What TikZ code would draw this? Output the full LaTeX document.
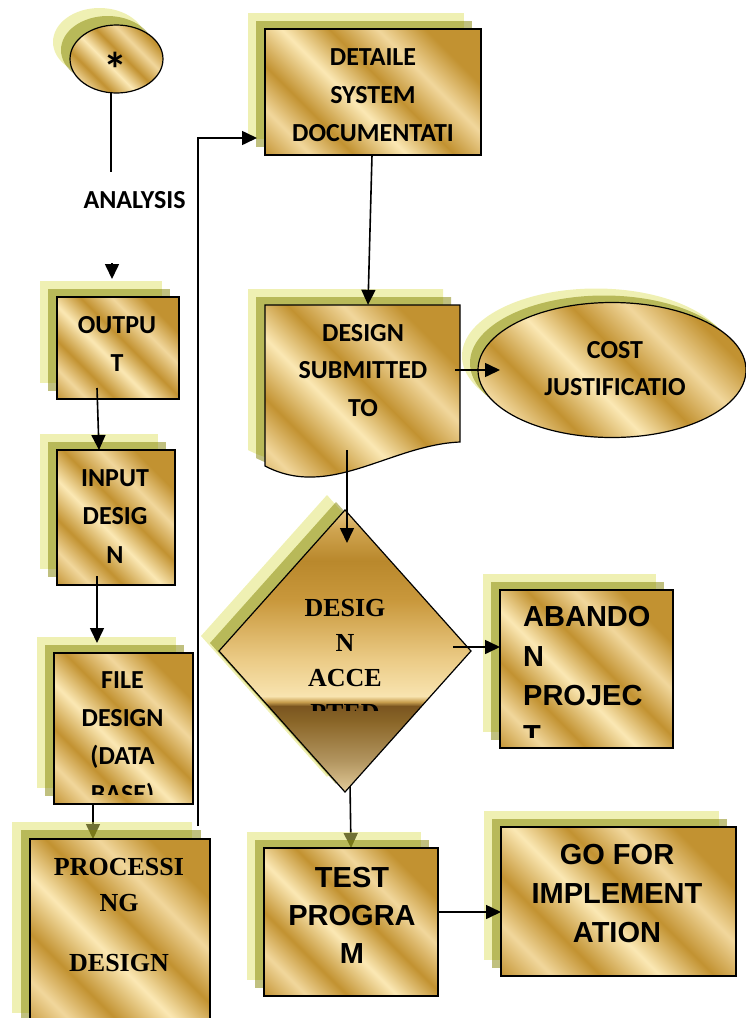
\documentclass[tikz,border=0pt]{standalone}
\usepackage{fontspec}
\newfontfamily\calfont{Carlito}
\newfontfamily\arifont{Liberation Sans}
\newfontfamily\timfont{Liberation Serif}
\usetikzlibrary{shapes.geometric,shadows,arrows.meta,calc}
\pgfdeclarelayer{bg}
\pgfsetlayers{bg,main}
\definecolor{gA}{HTML}{A88A5C}
\definecolor{gB}{HTML}{7D5C26}
\definecolor{gL}{HTML}{FBE8B4}
\definecolor{gM}{HTML}{C29231}
\definecolor{gLL}{HTML}{F1D79C}
\definecolor{shL}{HTML}{E0E268}
\definecolor{shO}{HTML}{828200}
\definecolor{dA}{HTML}{E3CC9A}
\definecolor{dB}{HTML}{B29560}
\definecolor{dC}{HTML}{8A6628}
\definecolor{dD}{HTML}{7A5520}
\definecolor{dE}{HTML}{C9A050}
\definecolor{dF}{HTML}{F8E4B0}
\definecolor{dG}{HTML}{EBCB86}
\definecolor{dH}{HTML}{C9983C}
\definecolor{dI}{HTML}{B9882C}
\definecolor{dJ}{HTML}{CFA450}
\definecolor{dK}{HTML}{E9CA8A}
\pgfdeclarehorizontalshading{goldsh}{100bp}{color(0bp)=(gA); color(5bp)=(gB); color(10.5bp)=(gB); color(12bp)=(gL); color(14bp)=(gM); color(24bp)=(gLL); color(33bp)=(gM); color(44bp)=(gL); color(54bp)=(gM); color(64bp)=(gLL); color(74bp)=(gM); color(86bp)=(gM); color(88bp)=(gL); color(89.5bp)=(gB); color(95bp)=(gB); color(100bp)=(gA)}
\pgfdeclareverticalshading{diamsh}{100bp}{color(0bp)=(dA); color(25bp)=(dA); color(30.5bp)=(dB); color(37.5bp)=(dC); color(40.25bp)=(dD); color(41bp)=(dE); color(42bp)=(dF); color(48.5bp)=(dG); color(59bp)=(dH); color(66bp)=(dI); color(71.5bp)=(dJ); color(75bp)=(dK); color(100bp)=(dK)}
\tikzset{
  box/.style={draw=black, line width=1.2pt, inner sep=0pt, outer sep=0pt, shading=goldsh, shading angle=45},
  dsh/.style n args={4}{general shadow={shadow xshift=#1pt, shadow yshift=#2pt, fill=shL, fill opacity=0.5, draw=none},
                        general shadow={shadow xshift=#3pt, shadow yshift=#4pt, fill=shO, fill opacity=0.5, draw=none}},
  rsh/.style={dsh={-17}{16}{-9}{8}},
  cal/.style={font=\calfont\bfseries\fontsize{26pt}{#1pt}\selectfont, align=center, inner sep=0pt},
  cal/.default=38,
  tim/.style={font=\timfont\bfseries\fontsize{26pt}{#1pt}\selectfont, align=center, inner sep=0pt},
  tim/.default=36,
  ari/.style={font=\arifont\bfseries\fontsize{29pt}{#1pt}\selectfont, align=center, inner sep=0pt},
  ari/.default=38,
  ln/.style={line width=1.5pt},
  arr/.style={line width=1.6pt, -{Triangle[length=15pt,width=14pt]}}
}
\begin{document}
\begin{tikzpicture}[x=1pt,y=-1pt]
\useasboundingbox (0,0) rectangle (746,1018);
\clip (0,0) rectangle (746,1018);

% start oval
\node[box, ellipse, minimum width=93pt, minimum height=68pt, dsh={-17}{17}{-9}{9}] (star) at (116.5,59) {};
\node[font=\calfont\bfseries\fontsize{48pt}{48pt}\selectfont, inner sep=0pt] (starT) at (115,69) {*};
\coordinate (anaEnd) at (111,172);
\node[cal] (anaT) at (134.5,200) {ANALYSIS};
\coordinate (anaArr) at (112,263);

% left column
\node[box, rsh, minimum width=122pt, minimum height=102pt] (output) at (118,348) {};
\node[cal] (outT) at (117,344) {OUTPU\\T};

\node[box, rsh, minimum width=118pt, minimum height=135pt] (input) at (116,517.5) {};
\node[cal={38.5}] (inT) at (115,516.5) {INPUT\\DESIG\\N};

\node[box, rsh, minimum width=139pt, minimum height=151pt] (file) at (123.5,728.5) {};
\begin{scope}
\clip (54,653) rectangle (193,794);
\node[cal={37.7}] (fileT) at (122.5,739) {FILE\\DESIGN\\(DATA\\BASE)};
\end{scope}

\node[box, dsh={-18}{17}{-9}{9}, minimum width=180pt, minimum height=191pt] (proc) at (120,934.5) {};
\node[tim={36}] (procT) at (119,915) {PROCESSI\\NG\\[24pt]DESIGN};

% right column
\node[box, rsh, minimum width=216pt, minimum height=126pt] (detail) at (373,92) {};
\node[cal] (detT) at (373,95) {DETAILE\\SYSTEM\\DOCUMENTATI};

\node[minimum width=195pt, minimum height=170pt, inner sep=0pt] (doc) at (362.5,390) {};
\path[box, rsh] (265,305) -- (460,305) -- (460,442) .. controls (390,445) and (330,500) .. (265,466) -- cycle;
\node[cal={37.5}] (docT) at (363,370.5) {DESIGN\\SUBMITTED\\TO};

\node[box, ellipse, dsh={-16}{14}{-8}{7}, minimum width=268pt, minimum height=135pt] (cost) at (612,370) {};
\node[cal={37}] (costT) at (615,368.5) {COST\\JUSTIFICATIO};

\node[box, diamond, shading=diamsh, shading angle=0, dsh={-18}{15}{-9}{8}, minimum width=252pt, minimum height=282pt] (dec) at (345,651) {};
\begin{scope}
\clip (250,580) rectangle (440,710);
\node[tim={35}] (decT) at (345,660.5) {DESIG\\N\\ACCE\\PTED};
\end{scope}

\node[box, rsh, minimum width=173pt, minimum height=158pt] (aband) at (586.5,669) {};
\begin{scope}
\clip (500,590) rectangle (673,737);
\node[ari={39.5}, align=left, anchor=west] (abT) at (523,676) {ABANDO\\N\\PROJEC\\T};
\end{scope}

\node[box, rsh, minimum width=174pt, minimum height=148pt] (test) at (351,922) {};
\node[ari={38}] (testT) at (352,915) {TEST\\PROGRA\\M};

\node[box, rsh, minimum width=235pt, minimum height=149pt] (go) at (618.5,901.5) {};
\node[ari={39}] (goT) at (617,894) {GO FOR\\IMPLEMENT\\ATION};

% connectors
\draw[ln] ([xshift=-5.5pt]star.south) -- (anaEnd);
\draw[arr] (anaArr) -- ([xshift=-6pt,yshift=18pt]output.north);
\draw[arr] ([xshift=-21pt,yshift=11pt]output.south) -- ([xshift=-17pt]input.north);
\draw[arr] ([xshift=-19pt,yshift=9pt]input.south) -- ([xshift=-26.5pt,yshift=10pt]file.north);
\draw[arr] ([xshift=-12pt,yshift=13pt]proc.north east) |- ([xshift=-8pt,yshift=17pt]detail.south west);
\draw[arr] ([xshift=-1pt]detail.south) -- ([xshift=5.5pt]doc.north);
\draw[arr] ([xshift=-5pt,yshift=20pt]doc.east) -- ([xshift=22pt]cost.west);
\draw[arr] ([xshift=-15.5pt,yshift=25pt]doc.south) -- ([xshift=2pt,yshift=-33pt]dec.north);
\draw[arr] ([xshift=-18pt,yshift=4pt]dec.east) -- ([yshift=22pt]aband.west);
\draw[arr] ([yshift=10pt]test.east) -- ([yshift=-10.5pt]go.west);
\begin{pgfonlayer}{bg}
\draw[arr] ([xshift=-30.5pt]file.south) -- ([xshift=-27pt]proc.north);
\draw[arr] ([xshift=5pt,yshift=7pt]dec.south) -- (test.north);
\end{pgfonlayer}
\end{tikzpicture}
\end{document}
